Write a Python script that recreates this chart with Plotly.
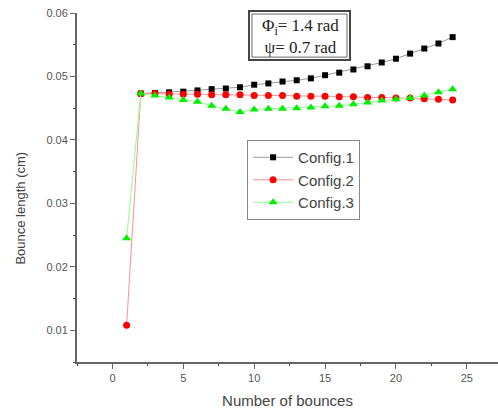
import plotly.graph_objects as go

bounces = list(range(1, 25))
config1 = [None, 0.0473, 0.0474, 0.0475, 0.0476, 0.0478, 0.0480, 0.0481, 0.0483, 0.0487,
           0.0489, 0.0492, 0.0494, 0.0497, 0.0502, 0.0506, 0.0511, 0.0516, 0.0522,
           0.0528, 0.0536, 0.0544, 0.0552, 0.0562]
config2 = [0.0108, 0.0473, 0.0473, 0.0472, 0.0472, 0.0472, 0.0471, 0.0471, 0.0471, 0.0470,
           0.0470, 0.0470, 0.0469, 0.0469, 0.0469, 0.0468, 0.0468, 0.0467, 0.0467,
           0.0466, 0.0466, 0.0465, 0.0464, 0.0463]
config3 = [0.0245, 0.0473, 0.0470, 0.0467, 0.0463, 0.0460, 0.0454, 0.0449, 0.0444, 0.0448,
           0.0449, 0.0449, 0.0450, 0.0451, 0.0453, 0.0454, 0.0456, 0.0459, 0.0462,
           0.0464, 0.0466, 0.0470, 0.0475, 0.0480]

fig = go.Figure()
fig.add_trace(go.Scatter(x=bounces, y=config1, name="Config.1", mode="lines+markers",
                         line=dict(color="#999999", width=1),
                         marker=dict(symbol="square", size=6, color="black")))
fig.add_trace(go.Scatter(x=bounces, y=config2, name="Config.2", mode="lines+markers",
                         line=dict(color="#ff9090", width=1),
                         marker=dict(symbol="circle", size=7, color="red")))
fig.add_trace(go.Scatter(x=bounces, y=config3, name="Config.3", mode="lines+markers",
                         line=dict(color="#90ff90", width=1),
                         marker=dict(symbol="triangle-up", size=8, color="#00ee00")))

axis_common = dict(showgrid=False, zeroline=False, showline=True, linecolor="#666666",
                   linewidth=2, ticks="outside", ticklen=5, tickcolor="#666666", tickwidth=1,
                   tickfont=dict(family="Arial", size=11, color="#555555"), mirror=False)

fig.update_xaxes(range=[-2.5, 27.2], dtick=5, tick0=0,
                 minor=dict(dtick=2.5, tick0=0, ticks="outside", ticklen=2, tickcolor="#444444"),
                 title=dict(text="Number of bounces", font=dict(family="Arial", size=15, color="#444444"),
                            standoff=12),
                 **axis_common)
fig.update_yaxes(range=[0.005, 0.06], dtick=0.01, tick0=0, tickformat=".2f",
                 minor=dict(dtick=0.005, tick0=0, ticks="outside", ticklen=2, tickcolor="#444444"),
                 **axis_common)

# y-axis title as annotation (positioned as in reference)
fig.add_annotation(xref="paper", yref="paper", x=-0.135, y=0.44, text="Bounce length (cm)",
                   textangle=-90, showarrow=False, xanchor="center", yanchor="middle",
                   font=dict(family="Arial", size=13, color="#444444"))

# parameter box
fig.add_shape(type="rect", xref="paper", yref="paper", x0=0.4086, x1=0.6485, y0=0.865, y1=1.0057,
              line=dict(color="#444444", width=2), fillcolor="white", layer="above")
fig.add_shape(type="rect", xref="paper", yref="paper", x0=0.4157, x1=0.6413, y0=0.8736, y1=0.997,
              line=dict(color="#666666", width=1), layer="above")
fig.add_annotation(xref="paper", yref="paper", x=0.5297, y=0.934, xanchor="center", yanchor="middle",
                   text="Φ<sub>i</sub>= 1.4 rad<br>ψ= 0.7 rad", showarrow=False,
                   font=dict(family="Liberation Serif", size=17, color="#222222"))

fig.update_layout(
    width=498, height=416, plot_bgcolor="white", paper_bgcolor="white",
    margin=dict(l=77, r=0, t=13, b=54),
    legend=dict(x=0.404, y=0.636, xanchor="left", yanchor="top",
                bordercolor="#888888", borderwidth=1, bgcolor="white",
                font=dict(family="Arial", size=15, color="#444444"),
                itemwidth=40, tracegroupgap=0),
)

fig.write_html("out.html")
